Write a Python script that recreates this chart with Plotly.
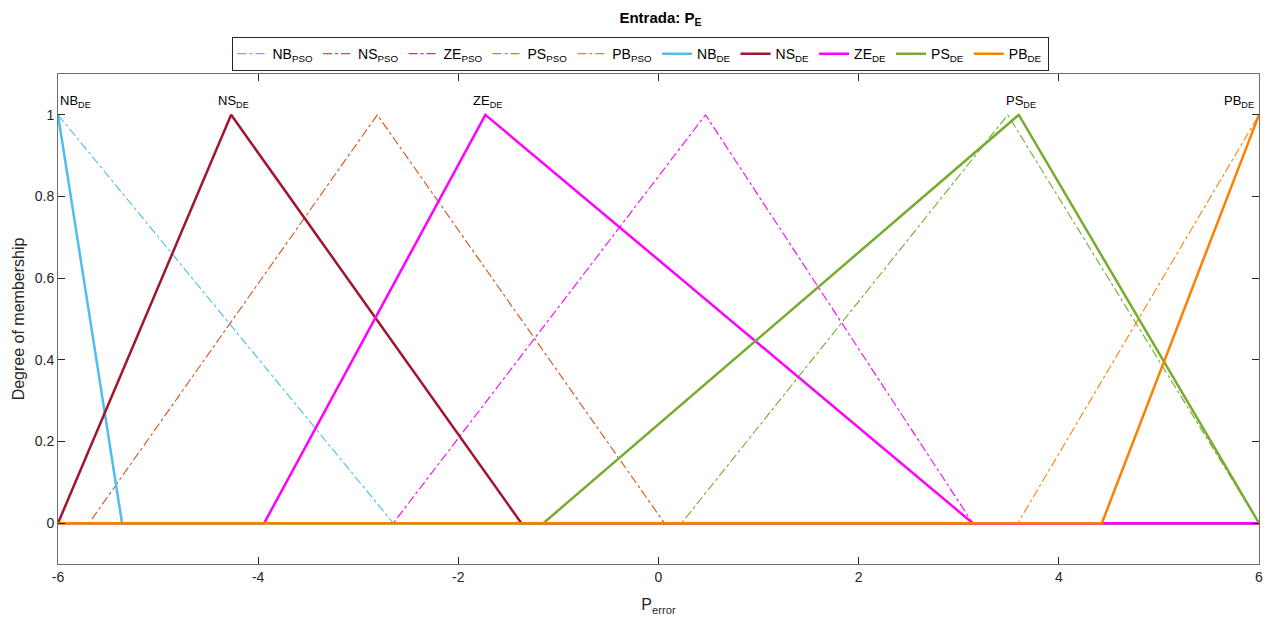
import plotly.graph_objects as go

# Triangular membership functions, vertices (a, b, c)
names_pso = ["NB", "NS", "ZE", "PS", "PB"]
pso_a = [-6.00, -5.69, -2.65, 0.23, 3.59]
pso_b = [-6.00, -2.81, 0.47, 3.49, 6.00]
pso_c = [-2.65, 0.06, 3.14, 6.00, 6.00]

names_de = ["NB", "NS", "ZE", "PS", "PB"]
de_a = [-6.00, -6.00, -3.94, -1.15, 4.43]
de_b = [-6.00, -4.27, -1.73, 3.60, 6.00]
de_c = [-5.36, -1.37, 3.14, 6.00, 6.00]

colors_pso = ["#4DBEEE", "#D95319", "#FF00FF", "#77AC30", "#FF8000"]
colors_de = ["#4DBEEE", "#A2142F", "#FF00FF", "#77AC30", "#FF8000"]

x_ticks = [-6, -4, -2, 0, 2, 4, 6]
y_ticks = [0, 0.2, 0.4, 0.6, 0.8, 1]

X_MIN, X_MAX = -6, 6


def tri_points(a, b, c):
    xs, ys = [], []
    if a > X_MIN:
        xs.append(X_MIN); ys.append(0)
    if b > a:
        xs.append(a); ys.append(0)
    xs.append(b); ys.append(1)
    if c > b:
        xs.append(c); ys.append(0)
    if c < X_MAX:
        xs.append(X_MAX); ys.append(0)
    return xs, ys


fig = go.Figure()
for n, a, b, c, col in zip(names_pso, pso_a, pso_b, pso_c, colors_pso):
    xs, ys = tri_points(a, b, c)
    fig.add_trace(go.Scatter(x=xs, y=ys, mode="lines", name=f"{n}<sub>PSO</sub>",
                             line=dict(color=col, width=1.1, dash="dashdot")))
for n, a, b, c, col in zip(names_de, de_a, de_b, de_c, colors_de):
    xs, ys = tri_points(a, b, c)
    fig.add_trace(go.Scatter(x=xs, y=ys, mode="lines", name=f"{n}<sub>DE</sub>",
                             line=dict(color=col, width=2.5)))

# peak labels for DE functions
for i, (n, b) in enumerate(zip(names_de, de_b)):
    if i == 0:
        anchor, shift = "left", 0
    elif i == 4:
        anchor, shift = "right", -3
    else:
        anchor, shift = "center", 2
    fig.add_annotation(x=b, y=1, text=f"{n}<sub>DE</sub>", showarrow=False,
                       xanchor=anchor, yanchor="bottom", yshift=3, xshift=shift,
                       font=dict(size=13, color="#000000"))

axis_common = dict(showgrid=False, zeroline=False, showline=True, mirror="ticks",
                   linecolor="#6e6e6e", linewidth=1, ticks="inside", ticklen=7,
                   tickcolor="#262626", tickfont=dict(size=14, color="#262626"),
                   automargin=False)

fig.update_layout(
    width=1270, height=624,
    paper_bgcolor="white", plot_bgcolor="white",
    font=dict(family="Liberation Sans, Arial, sans-serif", color="#262626"),
    margin=dict(l=58, r=11, t=74, b=60),
    title=dict(text="<b>Entrada: P<sub>E</sub></b>", x=0.52, xanchor="center",
               y=0.972, yanchor="middle", font=dict(size=15, color="#000000")),
    xaxis=dict(range=[X_MIN, X_MAX], tickvals=x_ticks,
               ticktext=[str(v) for v in x_ticks],
               title=dict(text="P<sub>error</sub>", font=dict(size=16), standoff=15),
               **axis_common),
    yaxis=dict(range=[-0.1, 1.1], tickvals=y_ticks,
               ticktext=["0", "0.2", "0.4", "0.6", "0.8", "1"],
               title=dict(text="Degree of membership", font=dict(size=16), standoff=6),
               **axis_common),
    legend=dict(orientation="h", x=0.4846, xanchor="center", y=1.006, yanchor="bottom",
                bordercolor="#262626", borderwidth=1, bgcolor="white",
                font=dict(size=14, color="#000000"), tracegroupgap=0,
                itemwidth=30),
    showlegend=True,
)

fig.write_html("out.html", config={"displayModeBar": False},
               post_script="document.body.style.margin='0px';document.body.style.overflow='hidden';")
